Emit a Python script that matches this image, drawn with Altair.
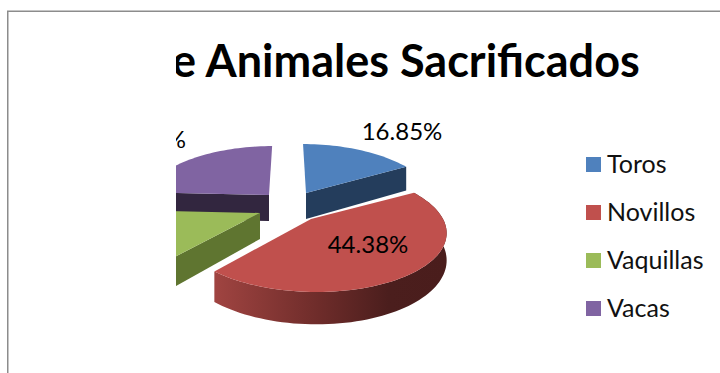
import math
import altair as alt

# Slaughtered animals by category, shares in percent
categories = ["Toros", "Novillos", "Vaquillas", "Vacas"]
shares = [16.85, 44.38, 14.50, 24.27]
top_colors = ["#4F81BD", "#C0504D", "#9BBB59", "#8064A2"]
wall_colors = ["#243D5C", "#5A1F1E", "#5F7530", "#32263F"]
title_text = "e Animales Sacrificados"

# Tilted-pie geometry in page pixels
apexes = {"Toros": (306, 193), "Novillos": (311, 219), "Vaquillas": (260, 213), "Vacas": (269, 195)}
radii = {"Toros": 128.0, "Novillos": 132.0, "Vaquillas": 127.0, "Vacas": 127.0}
DEPTH_RATIO, PERSPECTIVE, THICKNESS, VIEW_X = 58.6, 0.197, 26.0, 288.0
FONT = "Lato"


def project(name, deg, radial=1.0, drop=0.0):
    """Map a disc point (clockwise degrees from 12 o'clock) onto the page."""
    cx, cy = apexes[name]
    a = math.radians(deg)
    px, py = radial * math.sin(a), radial * math.cos(a)
    s = 1.0 / (1.0 + PERSPECTIVE * py)
    return [cx + radii[name] * px * s + (cx - VIEW_X) * (s - 1.0),
            cy - DEPTH_RATIO * py * s + drop * s]


def arc(name, start, end, drop=0.0):
    n = max(2, int(abs(end - start) / 2))
    return [project(name, start + (end - start) * i / n, 1.0, drop) for i in range(n + 1)]


def feature(points, **props):
    return {"type": "Feature", "properties": props,
            "geometry": {"type": "Polygon", "coordinates": [points + [points[0]]]}}


# Slice boundaries in degrees, derived from the shares
bounds = {}
angle = 0.0
for name, share in zip(categories, shares):
    bounds[name] = (angle, angle + share * 3.6)
    angle += share * 3.6

tops = []
for name in ["Vacas", "Toros", "Vaquillas", "Novillos"]:
    a0, a1 = bounds[name]
    tops.append(feature([project(name, 0, 0)] + arc(name, a0, a1), name=name))


# Cut faces seen from the front of the pie
def cut_face(name, deg, fill):
    apex, rim = project(name, deg, 0), project(name, deg)
    return feature([apex, rim, project(name, deg, 1, THICKNESS), project(name, deg, 0, THICKNESS)], fill=fill)


walls = [
    cut_face("Vacas", bounds["Vacas"][0], wall_colors[3]),
    cut_face("Toros", bounds["Toros"][1], wall_colors[0]),
    cut_face("Vaquillas", bounds["Vaquillas"][0], wall_colors[2]),
]
n0, n1 = bounds["Novillos"]
novillos_rim = [feature(arc("Novillos", n0, n1) + arc("Novillos", n1, n0, THICKNESS))]

projection = dict(type="identity", scale=1, translate=[0, 0])

wall_layer = alt.Chart(alt.Data(values=walls)).mark_geoshape(strokeWidth=0).encode(
    fill=alt.Fill("properties.fill:N", scale=None)
).project(**projection)

rim_layer = alt.Chart(alt.Data(values=novillos_rim)).mark_geoshape(
    strokeWidth=0,
    fill=alt.LinearGradient(
        gradient="linear", x1=0, x2=1, y1=0, y2=0,
        stops=[alt.GradientStop(offset=0, color="#A04441"),
               alt.GradientStop(offset=0.45, color="#6E2C2A"),
               alt.GradientStop(offset=0.75, color="#4B1E1D"),
               alt.GradientStop(offset=1, color="#4A1D1C")],
    ),
).project(**projection)

top_layer = alt.Chart(alt.Data(values=tops)).mark_geoshape(strokeWidth=0).encode(
    color=alt.Color(
        "properties.name:N",
        scale=alt.Scale(domain=categories, range=top_colors),
        legend=alt.Legend(
            title=None, orient="none", legendX=581, legendY=152,
            symbolType="square", symbolSize=225, symbolStrokeWidth=0,
            labelFont=FONT, labelFontSize=25, labelColor="#111111",
            labelOffset=1, rowPadding=22, labelLimit=200,
        ),
    )
).project(**projection)

label_rows = [
    {"label": f"{shares[0]:.2f}%", "px": 402, "py": 133, "align": "center"},
    {"label": f"{shares[1]:.2f}%", "px": 368, "py": 246, "align": "center"},
    {"label": f"{shares[3]:.2f}%", "px": 186, "py": 141, "align": "right"},
]


def slice_label(row):
    return alt.Chart(alt.Data(values=[row])).mark_text(
        font=FONT, fontSize=24, color="#000000", align=row["align"], baseline="middle"
    ).encode(text="label:N", x=alt.value(row["px"]), y=alt.value(row["py"]))


title_layer = alt.Chart(alt.Data(values=[{"t": title_text}])).mark_text(
    font=FONT, fontSize=45, fontWeight="bold", color="#000000", align="left", baseline="middle"
).encode(text="t:N", x=alt.value(172), y=alt.value(63))

# Blank panel masking the chart's left side, then the frame lines
blank = alt.Chart(alt.Data(values=[{"k": 0}])).mark_rect(color="#FFFFFF").encode(
    x=alt.value(8), x2=alt.value(176), y=alt.value(12), y2=alt.value(373)
)
frame_top = alt.Chart(alt.Data(values=[{"k": 0}])).mark_rule(color="#8C8C8C", strokeWidth=1.5).encode(
    x=alt.value(7), x2=alt.value(720), y=alt.value(11.25)
)
frame_left = alt.Chart(alt.Data(values=[{"k": 0}])).mark_rule(color="#8C8C8C", strokeWidth=1.5).encode(
    x=alt.value(7.75), y=alt.value(11), y2=alt.value(373)
)

chart = alt.layer(
    wall_layer, rim_layer, top_layer,
    slice_label(label_rows[0]), slice_label(label_rows[1]), slice_label(label_rows[2]),
    title_layer, blank, frame_top, frame_left,
).properties(
    width=720, height=373, padding=0, background="#FFFFFF",
    autosize=alt.AutoSizeParams(type="none"),
).configure_view(stroke=None)

chart.save("out.html", embed_options={"renderer": "svg", "actions": False})
